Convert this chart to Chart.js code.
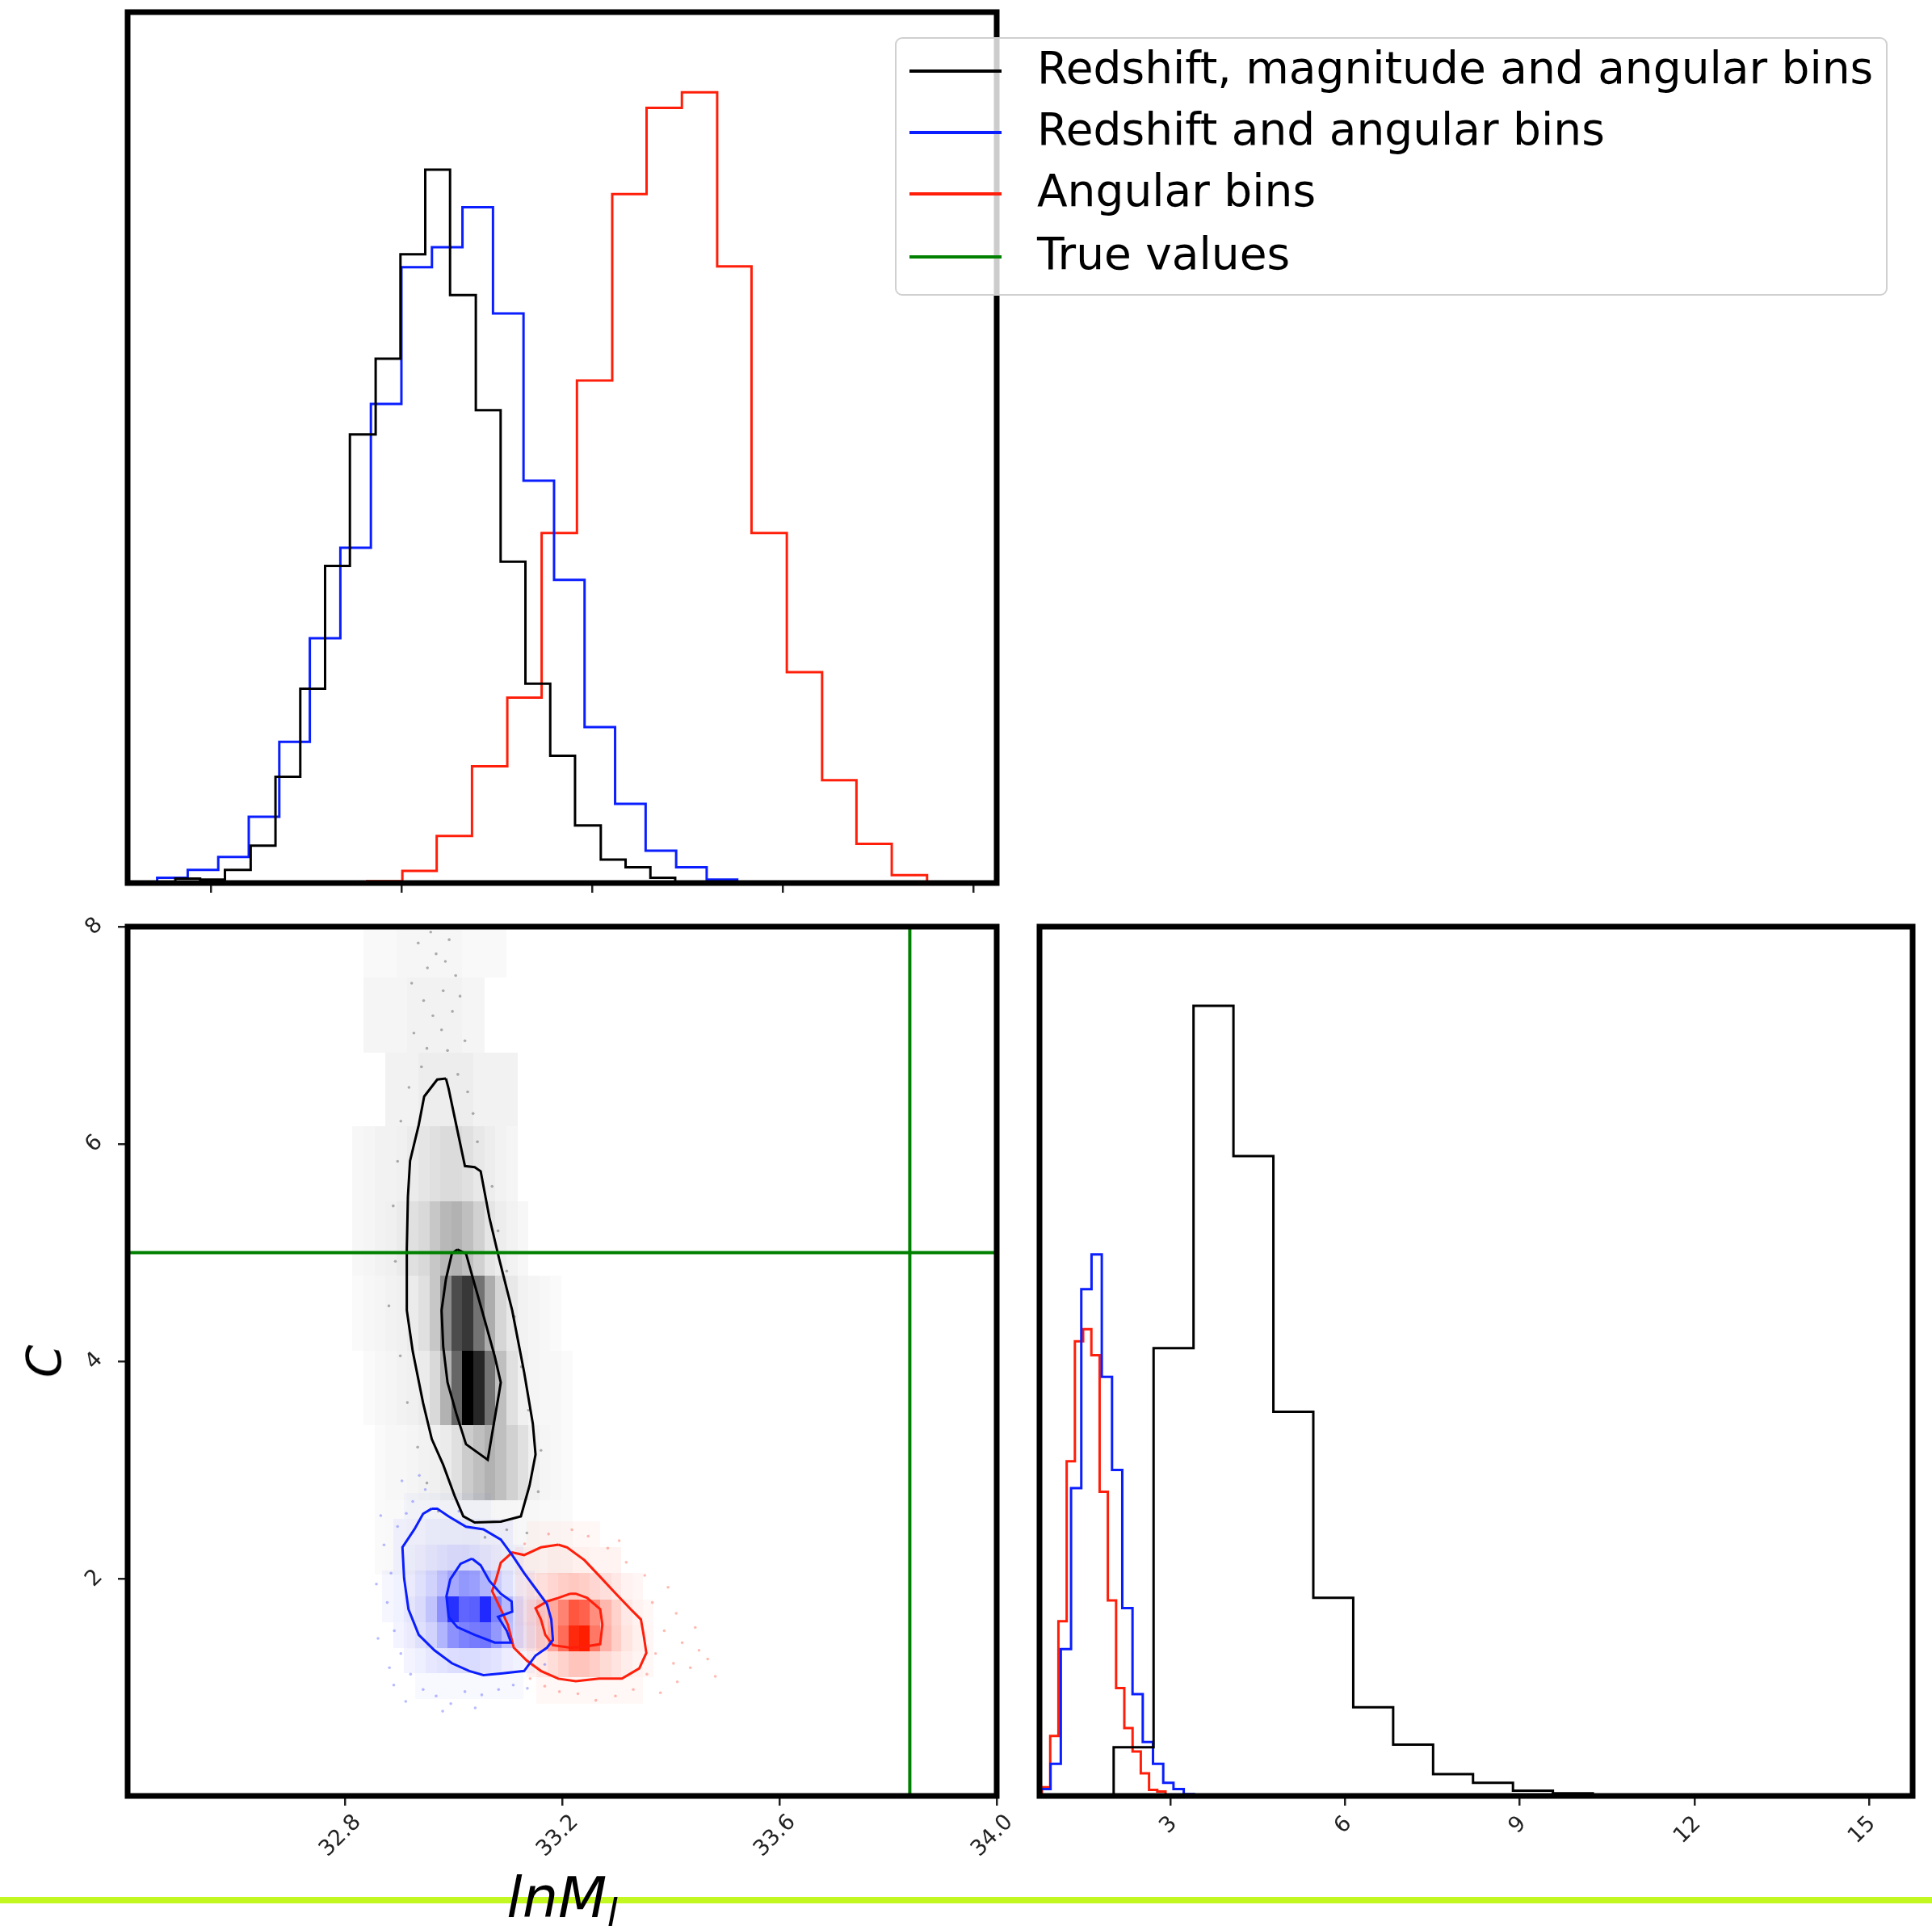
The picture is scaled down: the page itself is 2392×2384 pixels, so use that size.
<!DOCTYPE html>
<html lang="en">
<head>
<meta charset="UTF-8">
<title>Posterior corner plot: ln M and C</title>
<script src="https://cdn.jsdelivr.net/npm/chart.js@4.4.1/dist/chart.umd.min.js"></script>
<style>
    html, body { margin: 0; padding: 0; background: #ffffff; }
    body {
        position: relative;
        width: 2392px;
        height: 2384px;
        overflow: hidden;
        font-family: 'DejaVu Sans', sans-serif;
        color: #000;
    }
    .panel { position: absolute; }
    .stripe { position: absolute; left: 0; top: 2348px; width: 2392px; height: 8px; background: #c2f81f; }
    .axis-title { position: absolute; font-style: italic; white-space: nowrap; }
    #titleX { left: 696px; top: 2308px; font-size: 70px; line-height: 82px; transform: translateX(-50%); }
    #titleX .sub { font-size: 48px; position: relative; top: 12px; }
    #titleY { left: 55px; top: 1685px; font-size: 58px; line-height: 68px; transform: translate(-50%, -50%) rotate(-90deg); }
    #legend {
        position: absolute;
        left: 1108px;
        top: 46px;
        width: 1225px;
        height: 316px;
        border: 2px solid #d0d0d0;
        border-radius: 9px;
        background: rgba(255, 255, 255, 0.8);
    }
    .legend-row { position: absolute; left: 0; height: 0; }
    .legend-handle { position: absolute; left: 16px; top: -2px; width: 114px; height: 4px; }
    .legend-text { position: absolute; left: 174px; top: -36px; font-size: 55px; line-height: 64px; white-space: nowrap; }
</style>
</head>
<body>
<div class="panel" style="left:0;top:0;width:1250px;height:1130px"><canvas id="histLnM"></canvas></div>
<div class="panel" style="left:0;top:1100px;width:1290px;height:1230px"><canvas id="joint"></canvas></div>
<div class="panel" style="left:1260px;top:1100px;width:1132px;height:1230px"><canvas id="histC"></canvas></div>
<div class="stripe"></div>
<div class="axis-title" id="titleX">lnM<span class="sub">l</span></div>
<div class="axis-title" id="titleY">C</div>
<div id="legend"></div>

<script>
// Series: 0 = redshift+magnitude+angular, 1 = redshift+angular, 2 = angular only
const seriesNames = [
    'Redshift, magnitude and angular bins',
    'Redshift and angular bins',
    'Angular bins',
    'True values'
];
const seriesColors = ['#000000', '#0a1eff', '#ff1e0a', '#008000'];

// True parameter values
const trueLnM = 33.84;
const trueC = 5.0;

// Axis ranges and ticks
const lnmRangeTop = [32.513, 33.424];
const lnmTicksTop = [32.6, 32.8, 33.0, 33.2, 33.4];
const lnmRange = [32.4, 34.0];
const lnmTicks = [32.8, 33.2, 33.6, 34.0];
const cRange = [0, 8];
const cTicks = [2, 4, 6, 8];
const cRangeHist = [0.75, 15.75];
const cTicksHist = [3, 6, 9, 12, 15];

// ln M marginal histograms (heights in % of panel height)
const lnmEdgesAll = [32.537, 32.563, 32.589, 32.615, 32.642, 32.668, 32.694, 32.720, 32.746, 32.773, 32.799,
    32.825, 32.851, 32.878, 32.904, 32.930, 32.956, 32.982, 33.009, 33.035, 33.061, 33.087];
const lnmCountsAll = [0.1, 0.5, 0.4, 1.5, 4.3, 12.2, 22.3, 36.4, 51.5, 60.2, 72.2,
    81.9, 67.5, 54.3, 36.9, 22.9, 14.6, 6.6, 2.7, 1.8, 0.6];
const lnmEdgesZA = [32.512, 32.544, 32.576, 32.608, 32.640, 32.672, 32.704, 32.736, 32.768, 32.800, 32.832,
    32.864, 32.896, 32.928, 32.960, 32.992, 33.024, 33.056, 33.088, 33.120, 33.152];
const lnmCountsZA = [0.1, 0.6, 1.5, 3.0, 7.6, 16.2, 28.1, 38.5, 55.0, 70.7,
    73.0, 77.6, 65.4, 46.2, 34.8, 17.9, 9.1, 3.7, 1.8, 0.4];
const lnmEdgesAng = [32.690, 32.727, 32.764, 32.801, 32.837, 32.874, 32.911, 32.947, 32.984, 33.021, 33.057,
    33.094, 33.131, 33.167, 33.204, 33.241, 33.277, 33.314, 33.351, 33.387, 33.424, 33.461];
const lnmCountsAng = [0.05, 0.05, 0.2, 1.4, 5.4, 13.4, 21.3, 40.2, 57.7, 79.1, 89.0,
    90.8, 70.8, 40.2, 24.2, 11.8, 4.5, 0.9, 0.1, 0.1, 0.1];

// C marginal histograms (heights in % of panel height)
const cEdgesAll = [2.024, 2.710, 3.396, 4.082, 4.768, 5.454, 6.140, 6.826, 7.512, 8.198, 8.884, 9.570, 10.256, 10.942];
const cCountsAll = [5.6, 51.5, 90.9, 73.6, 44.2, 22.8, 10.2, 5.9, 2.5, 1.5, 0.6, 0.3, 0.15];
const cEdgesZA = [0.764, 0.940, 1.116, 1.292, 1.468, 1.644, 1.820, 1.996, 2.172, 2.348, 2.524, 2.700, 2.876,
    3.052, 3.228, 3.404, 3.580];
const cCountsZA = [0.8, 3.7, 16.9, 35.4, 58.3, 62.3, 48.2, 37.5, 21.6, 11.7, 6.2, 3.7, 1.5, 0.8, 0.2, 0.1];
const cEdgesAng = [0.792, 0.934, 1.075, 1.217, 1.358, 1.500, 1.641, 1.783, 1.924, 2.066, 2.207, 2.349, 2.490,
    2.632, 2.773, 2.915];
const cCountsAng = [1.0, 6.9, 20.1, 38.5, 52.3, 53.7, 50.7, 35.0, 22.5, 12.4, 7.8, 5.1, 2.6, 0.7, 0.5];

// 2D density cells (rows bottom -> top, values 0..1)
const gridAllLnM = [32.814, 32.834, 32.855, 32.875, 32.895, 32.915, 32.936, 32.956, 32.976, 32.996, 33.016,
    33.037, 33.057, 33.077, 33.098, 33.118, 33.138, 33.158, 33.178, 33.199, 33.219, 33.239];
const gridAllC = [1.35, 2.04, 2.72, 3.41, 4.10, 4.79, 5.47, 6.16, 6.84, 7.53, 8.22];
const gridAll = [
    [0, 0, 0, 0, 0, 0.015, 0.015, 0.015, 0.015, 0.015, 0.015, 0.015, 0.015, 0.015, 0.015, 0.015, 0.015, 0, 0, 0, 0],
    [0, 0, 0.02, 0.025, 0.025, 0.03, 0.03, 0.03, 0.035, 0.035, 0.04, 0.04, 0.04, 0.035, 0.035, 0.03, 0.03, 0.025, 0.025, 0.02, 0],
    [0, 0, 0.02, 0.03, 0.03, 0.04, 0.05, 0.06, 0.08, 0.12, 0.2, 0.25, 0.3, 0.25, 0.18, 0.12, 0.06, 0.04, 0.03, 0.02, 0],
    [0, 0.02, 0.03, 0.04, 0.05, 0.06, 0.08, 0.15, 0.3, 0.6, 1.0, 0.85, 0.55, 0.25, 0.12, 0.06, 0.04, 0.03, 0.03, 0.02, 0],
    [0.02, 0.03, 0.04, 0.05, 0.06, 0.08, 0.12, 0.22, 0.45, 0.7, 0.78, 0.55, 0.32, 0.16, 0.09, 0.05, 0.04, 0.03, 0.02, 0, 0],
    [0.03, 0.04, 0.05, 0.06, 0.08, 0.12, 0.15, 0.22, 0.28, 0.3, 0.25, 0.18, 0.1, 0.07, 0.05, 0.03, 0, 0, 0, 0, 0],
    [0.03, 0.04, 0.05, 0.05, 0.06, 0.08, 0.1, 0.12, 0.14, 0.14, 0.12, 0.09, 0.07, 0.05, 0.04, 0, 0, 0, 0, 0, 0],
    [0, 0, 0, 0.05, 0.05, 0.05, 0.07, 0.07, 0.07, 0.07, 0.07, 0.05, 0.05, 0.05, 0.05, 0, 0, 0, 0, 0, 0],
    [0, 0.04, 0.04, 0.04, 0.04, 0.05, 0.05, 0.05, 0.05, 0.05, 0.04, 0.04, 0, 0, 0, 0, 0, 0, 0, 0, 0],
    [0, 0.025, 0.025, 0.025, 0.035, 0.035, 0.035, 0.035, 0.035, 0.035, 0.025, 0.025, 0.025, 0.025, 0, 0, 0, 0, 0, 0, 0]
];
const gridZALnM = [32.849, 32.869, 32.889, 32.909, 32.929, 32.949, 32.969, 32.989, 33.009, 33.029, 33.049,
    33.069, 33.089, 33.109, 33.129, 33.149, 33.169, 33.189, 33.209];
const gridZAC = [0.890, 1.127, 1.364, 1.601, 1.838, 2.075, 2.312, 2.549, 2.786];
const gridZA = [
    [0, 0, 0, 0, 0.03, 0.03, 0.03, 0.03, 0.03, 0.03, 0.03, 0.03, 0.03, 0.03, 0, 0, 0, 0],
    [0, 0, 0, 0.05, 0.07, 0.1, 0.12, 0.15, 0.16, 0.16, 0.14, 0.12, 0.08, 0.06, 0.04, 0, 0, 0],
    [0, 0, 0.05, 0.08, 0.12, 0.18, 0.32, 0.48, 0.55, 0.58, 0.6, 0.45, 0.28, 0.15, 0.08, 0.04, 0, 0],
    [0, 0.04, 0.06, 0.1, 0.15, 0.25, 0.48, 0.92, 0.68, 0.7, 0.95, 0.55, 0.3, 0.14, 0.06, 0.04, 0, 0],
    [0, 0.04, 0.06, 0.08, 0.12, 0.18, 0.28, 0.38, 0.45, 0.42, 0.32, 0.22, 0.12, 0.06, 0.04, 0, 0, 0],
    [0, 0, 0.05, 0.06, 0.08, 0.1, 0.13, 0.15, 0.15, 0.13, 0.1, 0.08, 0.06, 0.04, 0, 0, 0, 0],
    [0, 0, 0.05, 0.05, 0.05, 0.07, 0.07, 0.07, 0.07, 0.07, 0.05, 0.05, 0.05, 0, 0, 0, 0, 0],
    [0, 0, 0, 0.03, 0.03, 0.03, 0.03, 0.03, 0.03, 0.03, 0.03, 0, 0, 0, 0, 0, 0, 0]
];
const gridAngLnM = [33.075, 33.095, 33.114, 33.134, 33.153, 33.173, 33.192, 33.212, 33.231, 33.251, 33.270,
    33.290, 33.309, 33.329, 33.348, 33.368, 33.387, 33.407];
const gridAngC = [0.85, 1.09, 1.33, 1.57, 1.81, 2.05, 2.29, 2.53];
const gridAng = [
    [0, 0, 0, 0, 0.03, 0.03, 0.03, 0.03, 0.03, 0.03, 0.03, 0.03, 0.03, 0.03, 0, 0, 0],
    [0, 0, 0, 0.06, 0.1, 0.15, 0.2, 0.26, 0.26, 0.22, 0.16, 0.12, 0.08, 0.05, 0.03, 0, 0],
    [0, 0, 0.06, 0.12, 0.22, 0.4, 0.65, 0.95, 1.0, 0.6, 0.35, 0.22, 0.12, 0.07, 0.04, 0, 0],
    [0, 0, 0.08, 0.15, 0.25, 0.38, 0.55, 0.75, 0.7, 0.5, 0.32, 0.2, 0.1, 0.06, 0.03, 0, 0],
    [0, 0, 0.06, 0.1, 0.14, 0.18, 0.22, 0.24, 0.22, 0.18, 0.14, 0.1, 0.06, 0.04, 0, 0, 0],
    [0, 0, 0.05, 0.05, 0.05, 0.07, 0.07, 0.07, 0.07, 0.05, 0.05, 0.05, 0, 0, 0, 0, 0],
    [0, 0, 0, 0.03, 0.03, 0.03, 0.03, 0.03, 0.03, 0.03, 0, 0, 0, 0, 0, 0, 0]
];

// Credible-region contours, [ln M, C]
const contourAllOuter = [[32.986, 6.603], [32.970, 6.593], [32.946, 6.437], [32.936, 6.176], [32.920, 5.844],
    [32.916, 5.512], [32.914, 5.038], [32.914, 4.469], [32.925, 4.090], [32.944, 3.616], [32.960, 3.284],
    [32.981, 3.047], [33.002, 2.762], [33.018, 2.573], [33.039, 2.516], [33.087, 2.525], [33.124, 2.573],
    [33.140, 2.857], [33.151, 3.142], [33.146, 3.426], [33.130, 3.900], [33.108, 4.469], [33.084, 4.943],
    [33.066, 5.323], [33.050, 5.749], [33.039, 5.787], [33.021, 5.797], [33.005, 6.176], [32.991, 6.508]];
const contourAllInner = [[33.007, 5.029], [32.997, 4.991], [32.986, 4.754], [32.978, 4.469], [32.981, 4.137],
    [32.989, 3.805], [33.005, 3.521], [33.023, 3.237], [33.063, 3.094], [33.071, 3.331], [33.084, 3.711],
    [33.087, 3.805], [33.076, 4.043], [33.055, 4.422], [33.039, 4.706], [33.023, 4.991]];
const contourZAOuter = [[32.960, 2.644], [32.944, 2.596], [32.928, 2.454], [32.906, 2.288], [32.909, 2.004],
    [32.917, 1.719], [32.936, 1.482], [32.965, 1.340], [32.997, 1.221], [33.029, 1.150], [33.055, 1.112],
    [33.087, 1.127], [33.130, 1.150], [33.151, 1.292], [33.172, 1.364], [33.183, 1.435], [33.180, 1.624],
    [33.172, 1.766], [33.151, 1.909], [33.130, 2.051], [33.108, 2.217], [33.087, 2.359], [33.055, 2.454],
    [33.023, 2.478], [32.991, 2.573], [32.970, 2.644]];
const contourZAInner = [[33.034, 2.184], [33.013, 2.136], [32.994, 1.994], [32.987, 1.838], [32.991, 1.648],
    [33.007, 1.553], [33.039, 1.482], [33.076, 1.411], [33.106, 1.411], [33.098, 1.520], [33.082, 1.648],
    [33.108, 1.695], [33.107, 1.790], [33.087, 1.861], [33.066, 1.980], [33.050, 2.122]];
const contourAngOuter = [[33.193, 2.312], [33.161, 2.288], [33.130, 2.217], [33.108, 2.241], [33.087, 2.146],
    [33.079, 2.004], [33.071, 1.885], [33.087, 1.719], [33.100, 1.577], [33.111, 1.364], [33.135, 1.245],
    [33.161, 1.150], [33.193, 1.079], [33.225, 1.056], [33.268, 1.079], [33.310, 1.079], [33.342, 1.174],
    [33.355, 1.316], [33.350, 1.482], [33.345, 1.624], [33.326, 1.719], [33.299, 1.861], [33.268, 2.027],
    [33.241, 2.170], [33.209, 2.288]];
const contourAngInner = [[33.215, 1.861], [33.193, 1.823], [33.172, 1.790], [33.151, 1.728], [33.161, 1.624],
    [33.169, 1.482], [33.183, 1.387], [33.215, 1.364], [33.241, 1.373], [33.270, 1.397], [33.274, 1.577],
    [33.270, 1.719], [33.246, 1.823], [33.225, 1.861]];

// Samples lying outside the contours, [ln M, C]
const samplesAll = [[32.935, 7.85], [32.952, 7.62], [32.968, 7.75], [32.981, 7.41], [32.992, 7.88], [33.004, 7.55],
    [32.945, 7.32], [32.962, 7.18], [32.978, 7.05], [32.998, 7.22], [33.012, 7.36], [32.927, 7.02], [32.951, 6.88],
    [32.989, 6.86], [33.021, 6.95], [32.941, 6.71], [33.008, 6.64], [33.026, 6.48], [32.918, 6.52], [32.903, 6.21],
    [33.036, 6.28], [33.044, 6.02], [32.897, 5.84], [32.889, 5.43], [33.071, 5.61], [33.082, 5.20], [32.893, 4.92],
    [33.098, 4.83], [32.881, 4.51], [33.112, 4.41], [32.902, 4.05], [33.125, 3.95], [32.915, 3.62], [33.138, 3.55],
    [32.934, 3.21], [33.161, 3.18], [32.951, 2.88], [33.156, 2.80], [32.972, 2.62], [33.135, 2.42], [33.058, 2.38],
    [33.098, 2.45], [32.958, 7.95], [32.985, 7.68], [32.923, 7.48]];
const samplesZA = [[32.872, 2.31], [32.885, 2.05], [32.878, 1.78], [32.891, 1.52], [32.903, 1.31], [32.921, 1.12],
    [32.944, 0.98], [32.968, 0.92], [32.995, 0.85], [33.021, 0.96], [33.052, 0.93], [33.083, 0.98], [33.110, 1.02],
    [33.136, 0.99], [32.897, 2.48], [32.925, 2.71], [32.948, 2.82], [32.866, 2.58], [32.858, 1.95], [32.861, 1.45],
    [32.882, 1.18], [32.912, 0.87], [32.980, 0.78], [33.040, 0.81], [32.913, 2.60], [33.010, 2.62], [32.937, 2.95],
    [32.905, 2.90], [32.890, 1.02], [33.168, 1.21]];
const samplesAng = [[33.372, 1.31], [33.388, 1.52], [33.405, 1.22], [33.421, 1.41], [33.366, 1.78], [33.395, 1.92],
    [33.352, 2.03], [33.318, 2.15], [33.284, 2.28], [33.248, 2.39], [33.218, 2.45], [33.331, 0.98], [33.298, 0.92],
    [33.262, 0.88], [33.229, 0.94], [33.195, 0.96], [33.168, 1.01], [33.141, 1.08], [33.436, 1.18], [33.452, 1.34],
    [33.468, 1.26], [33.482, 1.10], [33.412, 1.05], [33.381, 0.95], [33.356, 1.12], [33.445, 1.55], [33.410, 1.68],
    [33.131, 2.32], [33.175, 2.41], [33.305, 2.35]];

// ---------- helpers ----------
Chart.defaults.font.family = "'DejaVu Sans', sans-serif";
Chart.defaults.color = '#222';

const cellColors = ['0, 0, 0', '20, 30, 255', '255, 30, 0'];
const densityGrids = [
    { xEdges: gridAllLnM, yEdges: gridAllC, cells: gridAll, rgb: cellColors[0] },
    { xEdges: gridZALnM, yEdges: gridZAC, cells: gridZA, rgb: cellColors[1] },
    { xEdges: gridAngLnM, yEdges: gridAngC, cells: gridAng, rgb: cellColors[2] }
];

// outline of a step histogram: up at the first edge, down at the last one
function stepPoints(edges, counts) {
    const pts = [{ x: edges[0], y: 0 }];
    counts.forEach((v, i) => pts.push({ x: edges[i], y: v }));
    pts.push({ x: edges[edges.length - 1], y: 0 });
    return pts;
}

function closedLoop(pairs) {
    const pts = pairs.map(p => ({ x: p[0], y: p[1] }));
    pts.push({ x: pairs[0][0], y: pairs[0][1] });
    return pts;
}

function histDataset(edges, counts, color) {
    return {
        type: 'line',
        data: stepPoints(edges, counts),
        borderColor: color,
        borderWidth: 3,
        stepped: 'before',
        pointRadius: 0,
        fill: false
    };
}

function contourDataset(pairs, color) {
    return {
        type: 'scatter',
        data: closedLoop(pairs),
        showLine: true,
        borderColor: color,
        borderWidth: 3,
        pointRadius: 0,
        tension: 0,
        fill: false,
        order: 1
    };
}

function samplesDataset(pairs, rgb) {
    return {
        type: 'scatter',
        data: pairs.map(p => ({ x: p[0], y: p[1] })),
        pointRadius: 1.8,
        borderWidth: 0,
        backgroundColor: `rgba(${rgb}, 0.3)`,
        order: 3
    };
}

function fixedTicks(values) {
    return scale => { scale.ticks = values.map(v => ({ value: v })); };
}

const tickMarks = { drawOnChartArea: false, drawTicks: true, tickLength: 12, color: '#222', lineWidth: 2.5 };

// black box round each axes
const frame = {
    id: 'frame',
    afterDatasetsDraw(chart) {
        const { ctx, chartArea: a } = chart;
        ctx.save();
        ctx.strokeStyle = '#000';
        ctx.lineWidth = 7;
        ctx.lineJoin = 'miter';
        ctx.strokeRect(a.left, a.top, a.right - a.left, a.bottom - a.top);
        ctx.restore();
    }
};

// pcolor-like density cells under the contours
const densityCells = {
    id: 'densityCells',
    beforeDatasetsDraw(chart) {
        const { ctx, chartArea: a, scales: { x, y } } = chart;
        ctx.save();
        ctx.beginPath();
        ctx.rect(a.left, a.top, a.right - a.left, a.bottom - a.top);
        ctx.clip();
        densityGrids.forEach(g => {
            g.cells.forEach((row, r) => {
                row.forEach((v, c) => {
                    if (!v) return;
                    const x0 = Math.round(x.getPixelForValue(g.xEdges[c]));
                    const x1 = Math.round(x.getPixelForValue(g.xEdges[c + 1]));
                    const y0 = Math.round(y.getPixelForValue(g.yEdges[r]));
                    const y1 = Math.round(y.getPixelForValue(g.yEdges[r + 1]));
                    ctx.fillStyle = `rgba(${g.rgb}, ${v})`;
                    ctx.fillRect(x0, y1, x1 - x0, y0 - y1);
                });
            });
        });
        ctx.restore();
    }
};

const baseOptions = {
    responsive: true,
    maintainAspectRatio: false,
    animation: false,
    events: [],
    plugins: { legend: { display: false }, tooltip: { enabled: false } }
};

// ---------- top: ln M marginal ----------
new Chart(document.getElementById('histLnM'), {
    type: 'line',
    data: {
        datasets: [
            histDataset(lnmEdgesAll, lnmCountsAll, seriesColors[0]),
            histDataset(lnmEdgesZA, lnmCountsZA, seriesColors[1]),
            histDataset(lnmEdgesAng, lnmCountsAng, seriesColors[2])
        ]
    },
    options: {
        ...baseOptions,
        layout: { padding: { left: 158, top: 15, right: 16, bottom: 0 }, autoPadding: false },
        scales: {
            x: {
                type: 'linear',
                min: lnmRangeTop[0],
                max: lnmRangeTop[1],
                afterBuildTicks: fixedTicks(lnmTicksTop),
                afterFit: s => { s.height = 37; },
                ticks: { display: false },
                grid: tickMarks,
                border: { display: false }
            },
            y: { display: false, min: 0, max: 100 }
        }
    },
    plugins: [frame]
});

// ---------- bottom left: joint ln M / C ----------
new Chart(document.getElementById('joint'), {
    type: 'scatter',
    data: {
        datasets: [
            {
                type: 'scatter',
                data: [{ x: lnmRange[0], y: trueC }, { x: lnmRange[1], y: trueC }],
                showLine: true,
                borderColor: seriesColors[3],
                borderWidth: 4,
                pointRadius: 0,
                order: 0
            },
            {
                type: 'scatter',
                data: [{ x: trueLnM, y: cRange[0] }, { x: trueLnM, y: cRange[1] }],
                showLine: true,
                borderColor: seriesColors[3],
                borderWidth: 4,
                pointRadius: 0,
                order: 0
            },
            contourDataset(contourAllOuter, seriesColors[0]),
            contourDataset(contourAllInner, seriesColors[0]),
            contourDataset(contourZAOuter, seriesColors[1]),
            contourDataset(contourZAInner, seriesColors[1]),
            contourDataset(contourAngOuter, seriesColors[2]),
            contourDataset(contourAngInner, seriesColors[2]),
            samplesDataset(samplesAll, cellColors[0]),
            samplesDataset(samplesZA, cellColors[1]),
            samplesDataset(samplesAng, cellColors[2])
        ]
    },
    options: {
        ...baseOptions,
        layout: { padding: { left: 0, top: 47, right: 56, bottom: 0 }, autoPadding: false },
        scales: {
            x: {
                type: 'linear',
                min: lnmRange[0],
                max: lnmRange[1],
                afterBuildTicks: fixedTicks(lnmTicks),
                afterFit: s => { s.height = 107; },
                ticks: {
                    minRotation: 45,
                    maxRotation: 45,
                    padding: 5,
                    labelOffset: 16,
                    font: { size: 27 },
                    callback: v => v.toFixed(1)
                },
                grid: tickMarks,
                border: { display: false }
            },
            y: {
                type: 'linear',
                min: cRange[0],
                max: cRange[1],
                afterBuildTicks: fixedTicks(cTicks),
                afterFit: s => { s.width = 158; },
                ticks: {
                    minRotation: 45,
                    maxRotation: 45,
                    padding: 23,
                    labelOffset: -6,
                    font: { size: 27 },
                    callback: v => String(v)
                },
                grid: tickMarks,
                border: { display: false }
            }
        }
    },
    plugins: [densityCells, frame]
});

// ---------- bottom right: C marginal ----------
new Chart(document.getElementById('histC'), {
    type: 'line',
    data: {
        datasets: [
            histDataset(cEdgesAll, cCountsAll, seriesColors[0]),
            histDataset(cEdgesZA, cCountsZA, seriesColors[1]),
            histDataset(cEdgesAng, cCountsAng, seriesColors[2])
        ]
    },
    options: {
        ...baseOptions,
        layout: { padding: { left: 27, top: 47, right: 24, bottom: 0 }, autoPadding: false },
        scales: {
            x: {
                type: 'linear',
                min: cRangeHist[0],
                max: cRangeHist[1],
                afterBuildTicks: fixedTicks(cTicksHist),
                afterFit: s => { s.height = 107; },
                ticks: {
                    minRotation: 45,
                    maxRotation: 45,
                    padding: 7,
                    labelOffset: 4,
                    font: { size: 27 },
                    callback: v => String(v)
                },
                grid: tickMarks,
                border: { display: false }
            },
            y: { display: false, min: 0, max: 100 }
        }
    },
    plugins: [frame]
});

// ---------- legend ----------
const legendBox = document.getElementById('legend');
const legendRowY = [40, 116, 192, 270];
seriesNames.forEach((name, i) => {
    const row = document.createElement('div');
    row.className = 'legend-row';
    row.style.top = legendRowY[i] + 'px';
    const handle = document.createElement('div');
    handle.className = 'legend-handle';
    handle.style.background = seriesColors[i];
    const text = document.createElement('div');
    text.className = 'legend-text';
    text.textContent = name;
    row.appendChild(handle);
    row.appendChild(text);
    legendBox.appendChild(row);
});
</script>
</body>
</html>
